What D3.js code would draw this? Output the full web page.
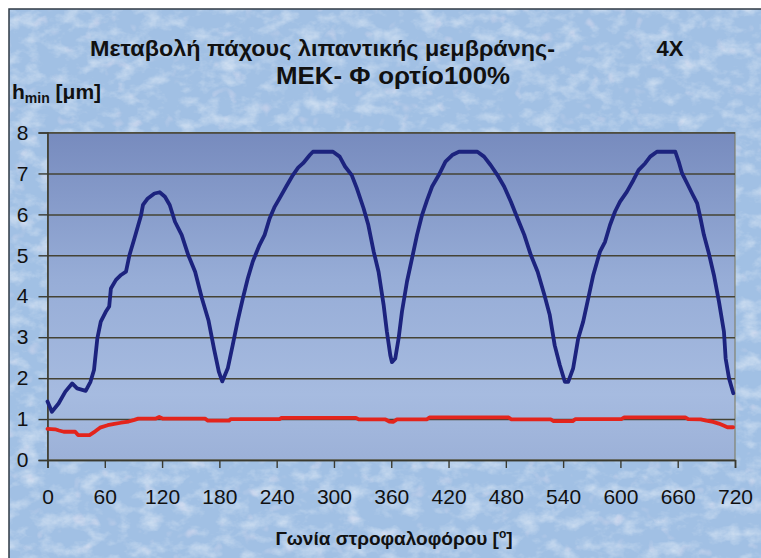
<!DOCTYPE html>
<html>
<head>
<meta charset="utf-8">
<script src="https://cdn.jsdelivr.net/npm/d3@7"></script>
<style>
  html, body { margin: 0; padding: 0; background: #ffffff; }
  svg { display: block; }
  text { font-family: "Liberation Sans", Arial, sans-serif; fill: #111; }
</style>
</head>
<body>
<svg id="chart" width="761" height="558"></svg>
<script>
// Crank angle [deg] and minimum film thickness [μm], main curve
const angleMain = [0, 4.6, 11.6, 18.7, 25.8, 31, 40, 45, 48.7, 52.2, 55.8, 61, 64.6, 66.4, 71.7, 77, 82.2, 85.8, 91, 98, 100, 105, 112, 117.5, 123, 128, 133.5, 140.5, 147.5, 154.6, 161.7, 168.7, 174.5, 179.5, 183, 188.8, 194, 199, 204.6, 209.8, 215, 222, 227.4, 232.6, 238, 243, 250, 257, 262.5, 267.7, 274.7, 278, 299, 306, 311.6, 318.6, 323.9, 331, 336, 341.6, 346.7, 352, 355.4, 359, 360.7, 364.2, 367.7, 371.2, 376.5, 381.8, 387, 392.3, 397.5, 402.8, 409.8, 416.8, 423.9, 430.9, 450.2, 457.2, 464.2, 471.2, 478.2, 485.3, 492.3, 499.3, 506.3, 513.3, 520.4, 526, 531.2, 536.5, 541.8, 545.3, 550.5, 555.8, 561, 566.3, 571.6, 578.6, 583.9, 589.1, 594.4, 599.6, 606.7, 613.7, 619, 626, 631.2, 638.2, 657.5, 661, 664.6, 669.8, 675.1, 680.4, 683.9, 687.4, 692.6, 697.9, 703.2, 708.4, 710.2, 713.7, 718.2];
const hMain = [1.43, 1.18, 1.38, 1.67, 1.87, 1.75, 1.69, 1.91, 2.2, 2.97, 3.38, 3.62, 3.75, 4.19, 4.40, 4.52, 4.60, 5.0, 5.41, 5.98, 6.23, 6.39, 6.51, 6.54, 6.43, 6.23, 5.82, 5.5, 5.0, 4.6, 3.95, 3.4, 2.7, 2.15, 1.92, 2.24, 2.81, 3.38, 3.95, 4.44, 4.85, 5.25, 5.5, 5.9, 6.19, 6.39, 6.68, 6.96, 7.14, 7.25, 7.45, 7.53, 7.53, 7.41, 7.17, 6.96, 6.64, 6.15, 5.74, 5.09, 4.6, 3.79, 3.14, 2.56, 2.39, 2.48, 2.97, 3.62, 4.36, 4.93, 5.5, 5.99, 6.35, 6.68, 6.96, 7.29, 7.45, 7.53, 7.53, 7.41, 7.2, 6.96, 6.68, 6.31, 5.9, 5.5, 5.0, 4.6, 4.03, 3.54, 2.8, 2.32, 1.91, 1.91, 2.24, 2.97, 3.38, 3.95, 4.52, 5.09, 5.33, 5.74, 6.07, 6.31, 6.55, 6.84, 7.08, 7.25, 7.41, 7.53, 7.53, 7.29, 7.0, 6.76, 6.51, 6.27, 5.9, 5.5, 5.05, 4.52, 3.87, 3.14, 2.48, 2.0, 1.63];

// Second curve (lower, nearly flat)
const angleAux = [0, 8, 12, 17, 29, 32, 44, 50, 55, 63, 70, 77, 85, 91, 95, 113, 117, 121, 165, 168, 190, 192, 243, 245, 323, 326, 354, 358, 362, 366, 397, 400, 483, 486, 527, 530, 550, 553, 601, 604, 668, 671, 684, 690, 697, 703, 708, 712, 718];
const hAux = [0.76, 0.75, 0.72, 0.69, 0.69, 0.61, 0.61, 0.70, 0.79, 0.85, 0.88, 0.91, 0.94, 0.98, 1.01, 1.01, 1.05, 1.01, 1.01, 0.96, 0.96, 1.0, 1.0, 1.03, 1.03, 0.99, 0.99, 0.94, 0.93, 0.99, 0.99, 1.04, 1.04, 0.99, 0.99, 0.95, 0.95, 1.0, 1.0, 1.04, 1.04, 1.0, 0.99, 0.96, 0.93, 0.89, 0.84, 0.8, 0.8];

// Axis ticks
const xTicks = [0, 60, 120, 180, 240, 300, 360, 420, 480, 540, 600, 660, 720];
const yTicks = [0, 1, 2, 3, 4, 5, 6, 7, 8];

const titleLine1 = "Μεταβολή πάχους λιπαντικής μεμβράνης-";
const titleTag = "4X";
const titleLine2a = "ΜΕΚ- Φ";
const titleLine2b = "ορτίο100%";
const xTitle = "Γωνία στροφαλοφόρου [";

const W = 761, H = 558;
const svg = d3.select("#chart");
const defs = svg.append("defs");

// Mottled sky texture for the chart background
const cloud = defs.append("filter").attr("id", "cloud")
  .attr("x", 0).attr("y", 0).attr("width", "100%").attr("height", "100%");
cloud.append("feTurbulence").attr("type", "fractalNoise")
  .attr("baseFrequency", "0.05 0.07").attr("numOctaves", 4).attr("seed", 11).attr("result", "n");
cloud.append("feColorMatrix").attr("in", "n").attr("type", "matrix")
  .attr("values", "0 0 0 0 1  0 0 0 0 1  0 0 0 0 1  2.0 0 0 0 -0.9");

const pinkF = defs.append("filter").attr("id", "pink")
  .attr("x", 0).attr("y", 0).attr("width", "100%").attr("height", "100%");
pinkF.append("feTurbulence").attr("type", "fractalNoise")
  .attr("baseFrequency", "0.07").attr("numOctaves", 2).attr("seed", 3).attr("result", "n");
pinkF.append("feColorMatrix").attr("in", "n").attr("type", "matrix")
  .attr("values", "0 0 0 0 0.9  0 0 0 0 0.8  0 0 0 0 0.9  0 3 0 0 -1.95");

// Plot area shading
const grad = defs.append("linearGradient").attr("id", "plotFill")
  .attr("x1", 0).attr("y1", 0).attr("x2", 0).attr("y2", 1);
grad.append("stop").attr("offset", "0%").attr("stop-color", "#778bbe");
grad.append("stop").attr("offset", "45%").attr("stop-color", "#97add7");
grad.append("stop").attr("offset", "80%").attr("stop-color", "#a6bbe0");
grad.append("stop").attr("offset", "100%").attr("stop-color", "#9cb1d8");

// Chart frame and background
const frame = { x: 9, y: 9 };
svg.append("rect").attr("x", frame.x).attr("y", frame.y)
  .attr("width", W - frame.x + 2).attr("height", H - frame.y + 2)
  .attr("fill", "#a1c0e4");
svg.append("rect").attr("x", frame.x).attr("y", frame.y)
  .attr("width", W - frame.x).attr("height", H - frame.y)
  .attr("filter", "url(#cloud)").attr("opacity", 0.5);
svg.append("rect").attr("x", frame.x).attr("y", frame.y)
  .attr("width", W - frame.x).attr("height", H - frame.y)
  .attr("filter", "url(#pink)").attr("opacity", 0.5);
svg.append("path")
  .attr("d", `M${frame.x},${H + 2}V${frame.y}H${W + 2}`)
  .attr("fill", "none").attr("stroke", "#2f3a44").attr("stroke-width", 1.5);

// Scales
const plot = { left: 47.5, right: 735, top: 132.5, bottom: 460 };
const x = d3.scaleLinear().domain([0, 720]).range([plot.left, plot.right]);
const y = d3.scaleLinear().domain([0, 8]).range([plot.bottom, plot.top]);

svg.append("rect")
  .attr("x", plot.left).attr("y", plot.top)
  .attr("width", plot.right - plot.left).attr("height", plot.bottom - plot.top)
  .attr("fill", "url(#plotFill)")
  .attr("stroke", "#7a7658").attr("stroke-width", 1);

// Horizontal gridlines
svg.append("g")
  .attr("transform", `translate(${plot.left},0)`)
  .call(d3.axisRight(y).tickValues(yTicks).tickSize(plot.right - plot.left).tickFormat(""))
  .call(g => g.select(".domain").remove())
  .call(g => g.selectAll(".tick line").attr("stroke", "#454335").attr("stroke-width", 1.5));

// Y axis
svg.append("g")
  .attr("transform", `translate(${plot.left},0)`)
  .call(d3.axisLeft(y).tickValues(yTicks).tickSize(9).tickPadding(10).tickFormat(d3.format("d")))
  .call(g => g.select(".domain").attr("stroke", "#3a3a30").attr("stroke-width", 1.6))
  .call(g => g.selectAll(".tick line").attr("stroke", "#3a3a30").attr("stroke-width", 1.4))
  .call(g => g.selectAll(".tick text")
    .attr("font-size", 21).attr("font-family", "Liberation Sans, Arial, sans-serif")
    .attr("fill", "#111"));

// X axis
svg.append("g")
  .attr("transform", `translate(0,${plot.bottom})`)
  .call(d3.axisBottom(x).tickValues(xTicks).tickSize(8).tickPadding(21).tickFormat(d3.format("d")))
  .call(g => g.select(".domain").attr("stroke", "#3a3a30").attr("stroke-width", 1.6))
  .call(g => g.selectAll(".tick line").attr("stroke", "#3a3a30").attr("stroke-width", 1.4))
  .call(g => g.selectAll(".tick text")
    .attr("font-size", 21).attr("font-family", "Liberation Sans, Arial, sans-serif")
    .attr("fill", "#111"));

// Curves
const line = d3.line().x(d => x(d[0])).y(d => y(d[1]));
svg.append("path")
  .datum(d3.zip(angleAux, hAux))
  .attr("d", line)
  .attr("fill", "none").attr("stroke", "#e3241c").attr("stroke-width", 3.8)
  .attr("stroke-linejoin", "round").attr("stroke-linecap", "round");
svg.append("path")
  .datum(d3.zip(angleMain, hMain))
  .attr("d", line)
  .attr("fill", "none").attr("stroke", "#1c237e").attr("stroke-width", 3.8)
  .attr("stroke-linejoin", "round").attr("stroke-linecap", "round");

// Titles
svg.append("text").attr("x", 90).attr("y", 56)
  .attr("font-weight", "bold").attr("font-size", 22.5)
  .attr("textLength", 465).attr("lengthAdjust", "spacingAndGlyphs")
  .text(titleLine1);
svg.append("text").attr("x", 670).attr("y", 56)
  .attr("text-anchor", "middle").attr("font-weight", "bold").attr("font-size", 22)
  .text(titleTag);
const t2 = svg.append("text").attr("x", 276).attr("y", 84)
  .attr("font-weight", "bold").attr("font-size", 23)
  .attr("textLength", 234).attr("lengthAdjust", "spacingAndGlyphs");
t2.append("tspan").text(titleLine2a);
t2.append("tspan").attr("dx", 7).text(titleLine2b);

// Y axis title with subscript
const yt = svg.append("text").attr("x", 12).attr("y", 99)
  .attr("font-weight", "bold").attr("font-size", 21);
yt.append("tspan").text("h");
yt.append("tspan").attr("font-size", 14).attr("dy", 4).text("min");
yt.append("tspan").attr("dy", -4).text(" [μm]");

// X axis title with degree superscript
const xt = svg.append("text").attr("x", 394).attr("y", 545)
  .attr("text-anchor", "middle").attr("font-weight", "bold").attr("font-size", 19);
xt.append("tspan").text(xTitle);
xt.append("tspan").attr("font-size", 12).attr("dy", -7).text("o");
xt.append("tspan").attr("dy", 7).text("]");
</script>
</body>
</html>
